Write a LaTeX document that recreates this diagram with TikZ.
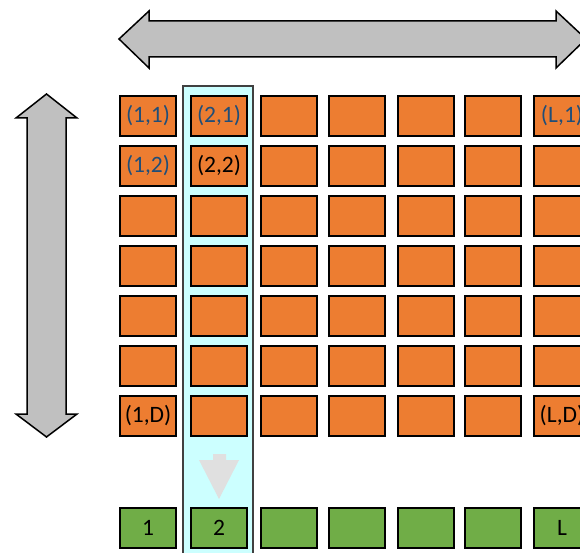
\documentclass[tikz,border=0pt]{standalone}
\usepackage{fontspec}
\setmainfont{Carlito}
\usetikzlibrary{positioning}
\definecolor{cellfill}{RGB}{237, 125, 49}
\definecolor{outfill}{RGB}{112, 173, 71}
\definecolor{labblue}{RGB}{31, 78, 121}
\definecolor{colfill}{RGB}{204, 255, 255}
\definecolor{coldraw}{RGB}{64, 64, 64}
\definecolor{bigarrow}{RGB}{192, 192, 192}
\definecolor{downarrow}{RGB}{224, 224, 224}

\begin{document}
\begin{tikzpicture}[
    x=1pt, y=-1pt,
    font=\fontsize{23.5}{27}\selectfont,
    % cell styles
    cell/.style={draw=black, fill=cellfill, line width=2pt, minimum width=56pt, minimum height=40pt, inner sep=0pt},
    outcell/.style={cell, fill=outfill},
    lblblue/.style={text=labblue, inner sep=0pt},
    lblblack/.style={text=black, inner sep=0pt},
    blockarrow/.style={draw=black, fill=bigarrow, line width=1.5pt, line join=miter}
]

\useasboundingbox (0,0) rectangle (580,553);
\clip (0,0) rectangle (580,553);

% row / column positions
\def\Outrow{528}

% ==========================================
% 1. highlighted column (behind everything)
% ==========================================
\filldraw[fill=colfill, draw=coldraw, line width=1.5pt] (183,86) rectangle (253,560);

% ==========================================
% 2. grid of cells and the output row
% ==========================================
\foreach \c/\x in {1/148, 2/219, 3/289, 4/357, 5/426, 6/493, 7/562} {
    \foreach \r in {1,...,7} {
        \node[cell] (cell-\c-\r) at (\x, {66+50*\r}) {};
    }
    \node[outcell] (out-\c) at (\x, \Outrow) {};
}

% cell labels
\node[lblblue]  (lab-11) at (cell-1-1) {(1,1)};
\node[lblblue]  (lab-21) at (cell-2-1) {(2,1)};
\node[lblblue]  (lab-L1) at (cell-7-1) {(L,1)};
\node[lblblue]  (lab-12) at (cell-1-2) {(1,2)};
\node[lblblack] (lab-22) at (cell-2-2) {(2,2)};
\node[lblblack] (lab-1D) at (cell-1-7) {(1,D)};
\node[lblblack] (lab-LD) at (cell-7-7) {(L,D)};

% output labels
\node[lblblack] (lab-o1) at (out-1) {1};
\node[lblblack] (lab-o2) at (out-2) {2};
\node[lblblack] (lab-oL) at (out-7) {L};

% ==========================================
% 3. block arrows
% ==========================================
% horizontal double arrow over the columns
\draw[blockarrow] (119,39) -- (149,11) -- (149,21) -- (556,21) -- (556,11)
    -- (586,39) -- (556,68) -- (556,57) -- (149,57) -- (149,68) -- cycle;

% vertical double arrow beside the rows
\draw[blockarrow] (46.5,94) -- (77,118) -- (66,118) -- (66,414) -- (77,414)
    -- (46.5,437) -- (16,414) -- (27,414) -- (27,118) -- (16,118) -- cycle;

% column collapses down into its output cell
\fill[downarrow] (213,454) -- (226,454) -- (226,460) -- (239,460)
    -- (219,499) -- (199,460) -- (213,460) -- cycle;

\end{tikzpicture}
\end{document}
